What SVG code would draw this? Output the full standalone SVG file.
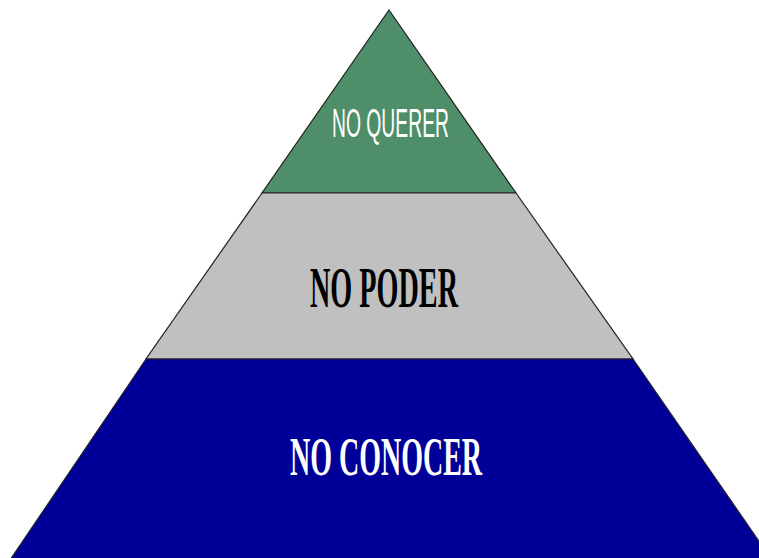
<svg xmlns="http://www.w3.org/2000/svg" width="759" height="558" viewBox="0 0 759 558">
<style>
.edge{stroke:#222;stroke-width:1.2;}
.lbl{font-family:"Liberation Serif","DejaVu Serif",serif;font-weight:bold;text-anchor:start;}
.top{font-family:"Liberation Sans","DejaVu Sans",sans-serif;font-weight:normal;}
</style>
<rect width="759" height="558" fill="#ffffff"/>
<g id="tier-top">
<polygon points="389,10 516,193 262,193" fill="#4E8F69" class="edge"/>
<text class="top" x="332" y="137" font-size="40" fill="#ffffff" textLength="117" lengthAdjust="spacingAndGlyphs">NO QUERER</text>
</g>
<g id="tier-middle">
<polygon points="262,193 516,193 633,359 146,359" fill="#C0C0C0" class="edge"/>
<text class="lbl" x="310" y="307" font-size="56" fill="#000000" textLength="148" lengthAdjust="spacingAndGlyphs">NO PODER</text>
</g>
<g id="tier-bottom">
<polygon points="146,359 633,359 772,560 10,560" fill="#000099" class="edge"/>
<text class="lbl" x="290" y="475" font-size="55" fill="#ffffff" textLength="192" lengthAdjust="spacingAndGlyphs">NO CONOCER</text>
</g>
<g id="connectors"></g>
</svg>
